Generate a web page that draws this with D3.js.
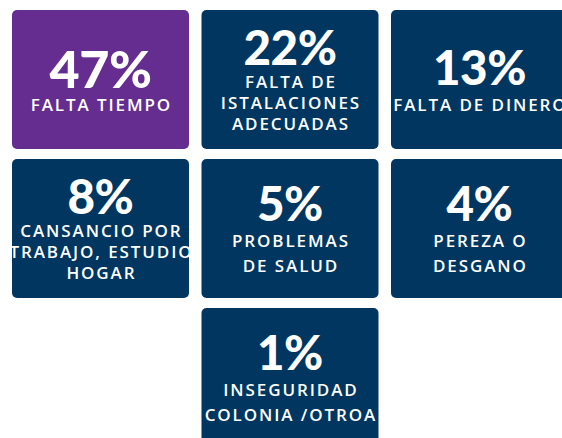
<!DOCTYPE html>
<html>
<head>
<meta charset="utf-8">
<script src="https://cdn.jsdelivr.net/npm/d3@7"></script>
<style>
  html, body { margin: 0; padding: 0; background: #ffffff; }
  svg { display: block; }
</style>
</head>
<body>
<svg id="chart" width="562" height="438"></svg>
<script>
// ---- data ----
const values = [47, 22, 13, 8, 5, 4, 1];
const labels = [
  ["FALTA TIEMPO"],
  ["FALTA DE", "ISTALACIONES", "ADECUADAS"],
  ["FALTA DE DINERO"],
  ["CANSANCIO POR", "TRABAJO, ESTUDIO", "HOGAR"],
  ["PROBLEMAS", "DE SALUD"],
  ["PEREZA O", "DESGANO"],
  ["INSEGURIDAD", "COLONIA /OTROA"]
];
const highlightIndex = 0;

// ---- layout ----
const nCols = 3;
const nRows = Math.ceil(values.length / nCols);
const svg = d3.select("#chart");

const x = d3.scaleBand().domain(d3.range(nCols)).range([12, 568]).paddingInner(0.066).paddingOuter(0);
const y = d3.scaleBand().domain(d3.range(nRows)).range([10, 447]).paddingInner(0.067).paddingOuter(0);

const tiles = values.map((v, i) => {
  const row = Math.floor(i / nCols);
  const inRow = Math.min(nCols, values.length - row * nCols);
  const col = (i % nCols) + (nCols - inRow) / 2;
  return { i, value: v, lines: labels[i], row, col };
});

const colorHi = "#652d90";
const colorBase = "#003660";
const tw = x.bandwidth(), th = y.bandwidth();
const labelSpacing = 1.9;

const defs = svg.append("defs");
tiles.forEach(t => {
  defs.append("clipPath").attr("id", "clip" + t.i)
    .append("rect")
    .attr("x", 0).attr("y", 0).attr("width", tw).attr("height", th).attr("rx", 5);
});

const g = svg.selectAll("g.tile").data(tiles).join("g")
  .attr("class", "tile")
  .attr("transform", d => `translate(${x(0) + d.col * x.step()},${y(d.row)})`);

g.append("rect")
  .attr("width", tw).attr("height", th).attr("rx", 5)
  .attr("fill", d => d.i === highlightIndex ? colorHi : colorBase);

const inner = g.append("g").attr("clip-path", d => `url(#clip${d.i})`);

inner.each(function(d) {
  const sel = d3.select(this);
  const hi = d.i === highlightIndex;
  const pctSize = hi ? 52 : 47.5;
  const pctCap = pctSize * 0.72;
  const n = d.lines.length;
  const gap = (hi || n >= 3) ? 23 : 26;
  const sp = n >= 3 ? 21 : 25;
  const blockH = pctCap + gap + (n - 1) * sp;
  const top = (th - blockH) / 2 + 1;
  const pctBase = top + pctCap;

  sel.append("text")
    .attr("x", tw / 2).attr("y", pctBase)
    .attr("text-anchor", "middle")
    .attr("fill", "#ffffff")
    .style("font-family", "Lato, sans-serif")
    .style("font-weight", 900)
    .style("font-size", pctSize + "px")
    .style("letter-spacing", "-0.5px")
    .text(d.value + "%");

  d.lines.forEach((ln, k) => {
    sel.append("text")
      .attr("x", tw / 2 + labelSpacing / 2).attr("y", pctBase + gap + k * sp)
      .attr("text-anchor", "middle")
      .attr("fill", "#ffffff")
      .style("font-family", "'Open Sans', sans-serif")
      .style("font-weight", 600)
      .style("font-size", "17px")
      .style("letter-spacing", labelSpacing + "px")
      .text(ln);
  });
});
</script>
</body>
</html>
